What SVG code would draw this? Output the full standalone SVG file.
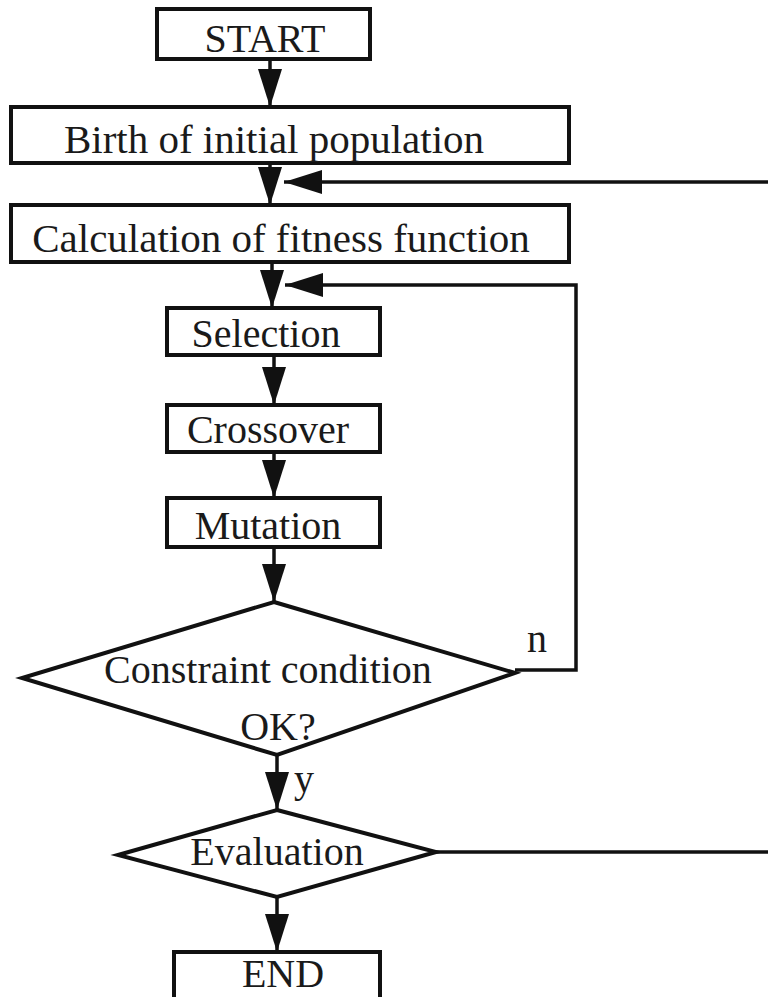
<svg xmlns="http://www.w3.org/2000/svg" width="768" height="997" viewBox="0 0 768 997">
<style>
.box{fill:#fff;stroke:#111;stroke-width:4}
.lbl{font-family:"Liberation Serif","Times New Roman",serif;font-size:40px;fill:#1a1a1a;text-anchor:middle}
.con{fill:none;stroke:#111;stroke-width:3.5}
</style>
<defs>
<marker id="ah" viewBox="0 0 38 24" refX="38" refY="12" markerWidth="38" markerHeight="24" markerUnits="userSpaceOnUse" orient="auto">
<path d="M0,0 L38,12 L0,24 z" fill="#111"/>
</marker>
</defs>
<rect width="768" height="997" fill="#fff"/>
<g id="connectors">
<line class="con" x1="270" y1="59" x2="270" y2="107" marker-end="url(#ah)"/>
<line class="con" x1="270" y1="163" x2="270" y2="205" marker-end="url(#ah)"/>
<line class="con" x1="768" y1="182" x2="284" y2="182" marker-end="url(#ah)"/>
<line class="con" x1="272" y1="262" x2="272" y2="308" marker-end="url(#ah)"/>
<path class="con" d="M515,670 H576 V285 H285" marker-end="url(#ah)"/>
<line class="con" x1="274" y1="355" x2="274" y2="405" marker-end="url(#ah)"/>
<line class="con" x1="274" y1="452" x2="274" y2="498" marker-end="url(#ah)"/>
<line class="con" x1="274" y1="547" x2="274" y2="602" marker-end="url(#ah)"/>
<line class="con" x1="277" y1="755" x2="277" y2="810" marker-end="url(#ah)"/>
<line class="con" x1="277" y1="897" x2="277" y2="952" marker-end="url(#ah)"/>
<line class="con" x1="436" y1="852" x2="768" y2="852"/>
<text class="lbl" x="537" y="652">n</text>
<text class="lbl" x="304" y="792">y</text>
</g>
<g id="start">
<rect class="box" x="157" y="9" width="213" height="50"/>
<text class="lbl" x="265" y="52">START</text>
</g>
<g id="birth">
<rect class="box" x="11" y="107" width="558" height="56"/>
<text class="lbl" x="274" y="153" style="font-size:41px">Birth of initial population</text>
</g>
<g id="calc">
<rect class="box" x="11" y="205" width="558" height="57"/>
<text class="lbl" x="281" y="252" style="font-size:41px">Calculation of fitness function</text>
</g>
<g id="selection">
<rect class="box" x="167" y="308" width="213" height="47"/>
<text class="lbl" x="266" y="347">Selection</text>
</g>
<g id="crossover">
<rect class="box" x="167" y="405" width="213" height="47"/>
<text class="lbl" x="268" y="443">Crossover</text>
</g>
<g id="mutation">
<rect class="box" x="167" y="498" width="213" height="49"/>
<text class="lbl" x="268" y="539">Mutation</text>
</g>
<g id="constraint">
<polygon class="box" points="274,602 515,673 277,755 22,678"/>
<text class="lbl" x="268" y="683">Constraint condition</text>
<text class="lbl" x="278" y="740">OK?</text>
</g>
<g id="evaluation">
<polygon class="box" points="277,810 436,852 277,897 118,855"/>
<text class="lbl" x="277" y="865">Evaluation</text>
</g>
<g id="end">
<rect class="box" x="174" y="952" width="206" height="60"/>
<text class="lbl" x="283" y="987">END</text>
</g>
</svg>
